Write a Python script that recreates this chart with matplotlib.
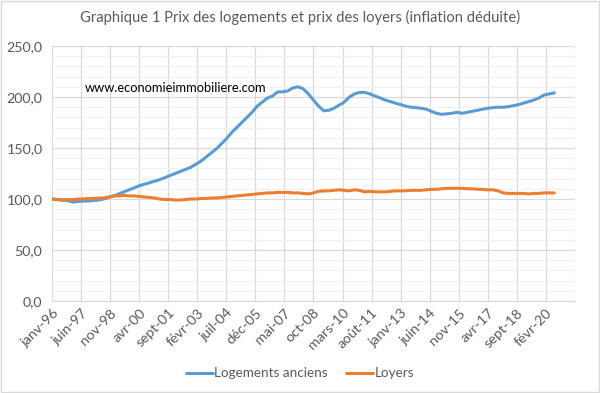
import matplotlib
matplotlib.use('Agg')
import matplotlib.pyplot as plt
from matplotlib.ticker import MultipleLocator, FuncFormatter

# quarterly values, 1996 T1 -> 2020 T3 (base 100 in janv-96)
logements = [100, 99.5, 99, 98.5,
             97, 97.5, 98, 98,
             98.5, 99, 100, 101.5,
             103, 105, 107, 109,
             111, 113, 114.5, 116,
             117.5, 119, 121, 123,
             125, 127, 129, 131,
             134, 137, 141, 145,
             149, 154, 159, 165,
             170, 175, 180, 185,
             191, 195, 199, 201,
             205, 205, 206, 209,
             210, 208, 203, 197,
             191, 186.5, 187, 189,
             192, 195, 200, 203,
             204.5, 204.5, 203, 201,
             199, 197, 195.5, 194,
             192.5, 191, 190, 189.5,
             189, 188, 186, 184,
             183, 183.5, 184, 185,
             184, 185, 186, 187,
             188, 189, 189.5, 190,
             190, 190.5, 191.5, 192.5,
             194, 195.5, 197, 199,
             202, 203, 204]

loyers = [100, 99.5, 99, 99.5,
          99.5, 100, 100, 100.5,
          100.5, 101, 101, 102,
          103, 103, 103.5, 103,
          103, 102.5, 102, 101.5,
          101, 100, 99.5, 99.5,
          99, 99, 99.5, 100,
          100, 100.5, 100.5, 101,
          101, 101.5, 102, 102.5,
          103, 103.5, 104, 104.5,
          105, 105.5, 106, 106,
          106.5, 106.5, 106.5, 106,
          106, 105.5, 105, 106,
          107.5, 108, 108, 108.5,
          109, 108.5, 108, 109,
          108.5, 107, 107.5, 107,
          107, 107, 107.5, 108,
          108, 108, 108.5, 108.5,
          108.5, 109, 109.5, 109.5,
          110, 110.5, 110.5, 110.5,
          110.5, 110, 110, 109.5,
          109.5, 109, 109, 108,
          106, 105.5, 105.5, 105.5,
          105.5, 105, 105.5, 105.5,
          106, 106, 106]

tick_labels = ['janv-96', 'juin-97', 'nov-98', 'avr-00', 'sept-01', 'févr-03',
               'juil-04', 'déc-05', 'mai-07', 'oct-08', 'mars-10', 'août-11',
               'janv-13', 'juin-14', 'nov-15', 'avr-17', 'sept-18', 'févr-20']

title = 'Graphique 1 Prix des logements et prix des loyers (inflation déduite)'
source = 'www.economieimmobiliere.com'

grey = '#595959'
plt.rcParams['font.family'] = ['Lato', 'DejaVu Sans']

months = [3 * i for i in range(len(logements))]  # month index from janv-96
step = 17

fig = plt.figure(figsize=(6, 3.93), dpi=100)
ax = fig.add_axes([0.087, 0.234, 0.871, 0.649])

ax.plot(months, logements, color='#5B9BD5', lw=2.2, label='Logements anciens',
        solid_capstyle='round', zorder=3)
ax.plot(months, loyers, color='#ED7D31', lw=2.2, label='Loyers',
        solid_capstyle='round', zorder=3)

ax.set_ylim(0, 250)
ax.set_xlim(0, step * len(tick_labels))
ax.yaxis.set_major_locator(MultipleLocator(50))
ax.yaxis.set_minor_locator(MultipleLocator(10))
ax.yaxis.set_major_formatter(FuncFormatter(lambda v, p: f'{v:.1f}'.replace('.', ',')))
ax.set_xticks([step * i for i in range(len(tick_labels) + 1)])
ax.set_xticklabels(tick_labels + [''], rotation=45, ha='right',
                   rotation_mode='anchor')

ax.grid(which='major', color='#D9D9D9', lw=0.9)
ax.grid(which='minor', axis='y', color='#F0F0F0', lw=0.8)
ax.set_axisbelow(True)
for s in ['top', 'right', 'left']:
    ax.spines[s].set_visible(False)
ax.spines['bottom'].set_color('#D9D9D9')
ax.tick_params(which='both', length=0, colors=grey, labelsize=10.3)
ax.tick_params(axis='x', pad=4)
ax.tick_params(axis='y', pad=7)

fig.text(0.5, 0.955, title, ha='center', va='center', fontsize=10.6, color=grey)
fig.text(0.142, 0.775, source, ha='left', va='center', fontsize=9.3, color='black')

fig.legend(loc='center', bbox_to_anchor=(0.5, 0.05), ncol=2, frameon=False,
           fontsize=9.7, labelcolor=grey, handlelength=2.0, handletextpad=0.1,
           columnspacing=1.4)

# outer chart border
fig.patches.append(plt.Rectangle((0.002, 0.002), 0.996, 0.996, transform=fig.transFigure,
                                 fill=False, edgecolor='#D9D9D9', lw=1))

fig.savefig('out.png', dpi=100)
